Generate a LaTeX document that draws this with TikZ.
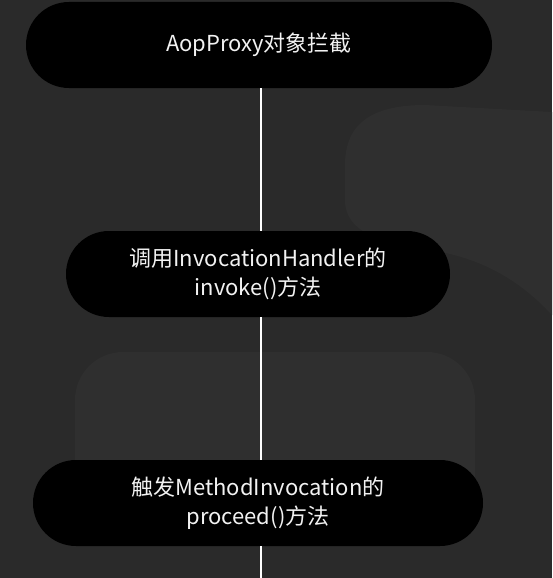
\documentclass[tikz,border=0pt]{standalone}
\usepackage{fontspec}
\setmainfont{Noto Sans CJK SC}
\definecolor{bgcol}{HTML}{2A2A2A}
\definecolor{lobecol}{HTML}{2F2F2F}
\definecolor{txtcol}{HTML}{F2F2F2}

\begin{document}
\begin{tikzpicture}[x=1pt, y=-1pt,
    pill/.style = {fill=black, rounded corners=43pt, minimum height=86pt,
      text=txtcol, align=center, font=\fontsize{22}{28.5}\selectfont, inner sep=0pt},
    link/.style = {draw=white, line width=2pt}]
    \useasboundingbox (0,0) rectangle (552,578);
    \fill[bgcol] (0,0) rectangle (552,578);
    % faint background shapes
    \fill[lobecol] (345,200) -- (345,165) .. controls (345,125) and (370,105) .. (425,105)
      -- (552,112) -- (552,315) .. controls (515,275) and (475,257) .. (430,250)
      .. controls (380,243) and (345,232) .. (345,200) -- cycle;
    \fill[lobecol, rounded corners=48pt] (75,540) -- (75,352) -- (475,352) -- (475,540) -- cycle;

    \node[pill, minimum width=466pt] (proxy) at (259, 45) {AopProxy对象拦截};
    \node[pill, minimum width=384pt] (invoke) at (258, 274)
      {调用InvocationHandler的\\invoke()方法};
    \node[pill, minimum width=450pt] (proceed) at (258, 503)
      {触发MethodInvocation的\\proceed()方法};
    \coordinate (tail) at (261, 578);

    \draw[link] ([xshift=2pt]proxy.south) -- ([xshift=3pt]invoke.north);
    \draw[link] ([xshift=3pt]invoke.south) -- ([xshift=3pt]proceed.north);
    \draw[link] ([xshift=3pt]proceed.south) -- (tail);
\end{tikzpicture}
\end{document}
